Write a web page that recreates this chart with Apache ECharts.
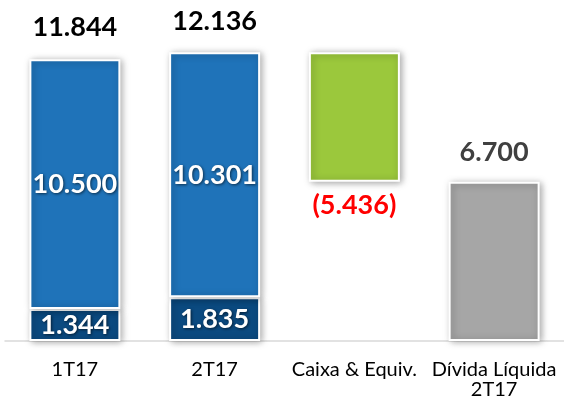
<!DOCTYPE html>
<html>
<head>
<meta charset="utf-8">
<script src="https://cdn.jsdelivr.net/npm/echarts@6/dist/echarts.min.js"></script>
<style>
  html, body { margin: 0; padding: 0; background: #fff; }
  #chart { width: 564px; height: 405px; }
</style>
</head>
<body>
<div id="chart"></div>
<script>
var categories = ['1T17', '2T17', 'Caixa & Equiv.', 'Dívida Líquida\n2T17'];
var baseVals = ['-', '-', 6700, '-'];        // invisible offset under the green bar
var bottomVals = [1344, 1835, '-', '-'];
var topVals = [10500, 10301, '-', '-'];
var totalVals = [11844, 12136, '-', '-'];
var caixaVals = ['-', '-', 5436, '-'];
var dividaVals = ['-', '-', '-', 6700];

function fmt(v) {
  return String(v).replace(/\B(?=(\d{3})+(?!\d))/g, '.');
}

var chart = echarts.init(document.getElementById('chart'));
var font = 'Lato, "DejaVu Sans", sans-serif';
var barShadow = {
  borderColor: '#fff',
  borderWidth: 2,
  shadowBlur: 7,
  shadowColor: 'rgba(0,0,0,0.35)',
  shadowOffsetX: 2,
  shadowOffsetY: 1
};
var inLabel = {
  show: true,
  position: 'inside',
  color: '#fff',
  fontFamily: font,
  fontWeight: 'bold',
  fontSize: 27,
  textShadowColor: 'rgba(0,0,0,0.6)',
  textShadowBlur: 3,
  textShadowOffsetX: 1,
  textShadowOffsetY: 1,
  formatter: function (p) { return fmt(p.value); }
};

var option = {
  animation: false,
  grid: { left: 5, right: -5, top: 8, bottom: 64 },
  xAxis: {
    type: 'category',
    data: categories,
    axisTick: { show: false },
    axisLine: { lineStyle: { color: '#d9d9d9', width: 1.5 } },
    axisLabel: {
      color: '#000',
      fontFamily: font,
      fontSize: 20,
      lineHeight: 20,
      margin: 19,
      interval: 0
    }
  },
  yAxis: {
    type: 'value',
    min: 0,
    max: 14000,
    show: false,
    splitLine: { show: false }
  },
  series: [
    {
      name: 'base', type: 'bar', stack: 'a', barWidth: 91,
      data: baseVals,
      itemStyle: { color: 'transparent' },
      silent: true
    },
    {
      name: 'bottom', type: 'bar', stack: 'a', barWidth: 91,
      data: bottomVals,
      itemStyle: Object.assign({ color: '#0b4a80' }, barShadow),
      label: inLabel
    },
    {
      name: 'top', type: 'bar', stack: 'a', barWidth: 91,
      data: topVals,
      itemStyle: Object.assign({ color: '#1f73b9' }, barShadow),
      label: inLabel
    },
    {
      name: 'total', type: 'bar', stack: 'a', barWidth: 91,
      data: totalVals.map(function (v) { return v === '-' ? '-' : 0; }),
      itemStyle: { color: 'transparent' },
      label: {
        show: true,
        position: 'top',
        distance: 18,
        color: '#000',
        fontFamily: font,
        fontWeight: 'bold',
        fontSize: 27,
        formatter: function (p) { return fmt(totalVals[p.dataIndex]); }
      }
    },
    {
      name: 'caixa', type: 'bar', stack: 'a', barWidth: 91,
      data: caixaVals,
      itemStyle: Object.assign({ color: '#9bc83c' }, barShadow),
      label: {
        show: true,
        position: 'bottom',
        distance: 10,
        color: '#ff0000',
        fontFamily: font,
        fontWeight: 'bold',
        fontSize: 27,
        formatter: function (p) { return '(' + fmt(p.value) + ')'; }
      }
    },
    {
      name: 'divida', type: 'bar', stack: 'a', barWidth: 91,
      data: dividaVals,
      itemStyle: Object.assign({ color: '#a6a6a6' }, barShadow),
      label: {
        show: true,
        position: 'top',
        distance: 16,
        color: '#404040',
        fontFamily: font,
        fontWeight: 'bold',
        fontSize: 27,
        formatter: function (p) { return fmt(p.value); }
      }
    }
  ]
};

chart.setOption(option);
</script>
</body>
</html>
